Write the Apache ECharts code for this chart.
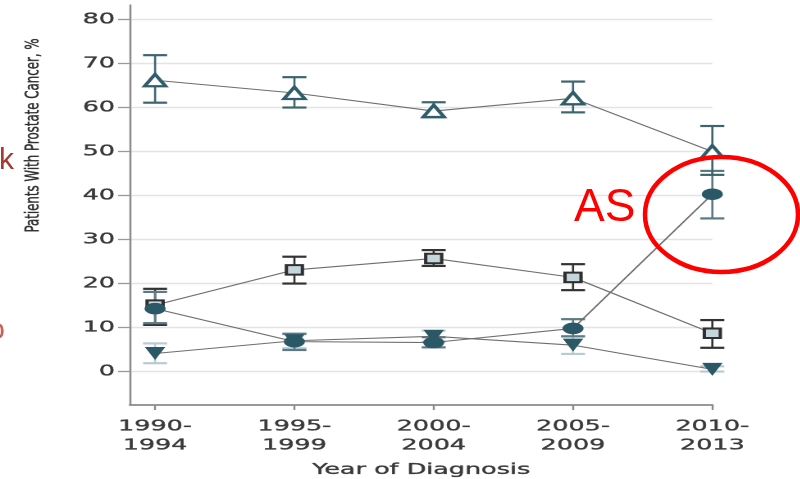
<!DOCTYPE html>
<html>
<head>
<meta charset="utf-8">
<script src="https://cdn.jsdelivr.net/npm/echarts@6/dist/echarts.min.js"></script>
<style>
  html, body { margin: 0; padding: 0; background: #fff; overflow: hidden; }
  #wrap { position: relative; width: 800px; height: 479px; overflow: hidden; }
  #chart { position: absolute; left: 0; top: 0; height: 479px; transform-origin: 0 0; }
  #notes { position: absolute; left: 0; top: 0; width: 800px; height: 479px; pointer-events: none; }
</style>
</head>
<body>
<div id="wrap"><div id="chart"></div><div id="notes"></div></div>
<script>
// ---- data -------------------------------------------------------------
const categories = ['1990-1994', '1995-1999', '2000-2004', '2005-2009', '2010-2013'];
const yTicks = [0, 10, 20, 30, 40, 50, 60, 70, 80];

// open upward triangles
const triUpValue = [66.2, 63.3, 59.2, 62.1, 50.0];
const triUpLow   = [61.1, 60.0, 57.8, 58.9, 44.7];
const triUpHigh  = [71.9, 66.9, 61.2, 65.9, 55.8];

// shaded squares
const squareValue = [15.1, 23.1, 25.7, 21.4, 8.7];
const squareLow   = [10.6, 20.0, 24.0, 18.5, 5.4];
const squareHigh  = [18.8, 26.1, 27.6, 24.4, 11.7];

// filled circles (AS)
const circleValue = [14.3, 6.8, 6.6, 9.8, 40.3];
const circleLow   = [11.0, 4.9, 5.5, 8.0, 34.8];
const circleHigh  = [18.1, 8.6, 7.8, 11.9, 45.6];

// filled downward triangles
const triDownValue = [4.1, 7.0, 8.0, 6.0, 0.5];
const triDownLow   = [1.9, 5.3, 6.8, 4.0, 0.0];
const triDownHigh  = [6.4, 8.5, 9.3, 8.0, 1.2];

// ---- panel geometry ---------------------------------------------------
// The figure panel is drawn narrow and widened horizontally.
const SX = 1.64;
const PANEL_W = 800 / SX;
const chartDom = document.getElementById('chart');
chartDom.style.width = PANEL_W + 'px';
chartDom.style.transform = 'scaleX(' + SX + ')';

const FONT = 'DejaVu Sans';
const TEXT = '#3a3a3a';
const CAP_HALF = 12 / SX;
const LINK = '#6e6e6e';

function points(values) {
  return values.map((v, i) => [i, v]);
}

function errorBars(low, high, color, z) {
  return {
    type: 'custom',
    z: z,
    silent: true,
    encode: { x: 0, y: [1, 2] },
    data: low.map((l, i) => [i, l, high[i]]),
    renderItem: function (params, api) {
      const x = api.value(0);
      const lo = api.coord([x, api.value(1)]);
      const hi = api.coord([x, api.value(2)]);
      return {
        type: 'group',
        children: [
          { type: 'line', shape: { x1: lo[0], y1: lo[1], x2: hi[0], y2: hi[1] },
            style: { stroke: color, lineWidth: 1.3 } },
          { type: 'line', shape: { x1: hi[0] - CAP_HALF, y1: hi[1], x2: hi[0] + CAP_HALF, y2: hi[1] },
            style: { stroke: color, lineWidth: 2.2 } },
          { type: 'line', shape: { x1: lo[0] - CAP_HALF, y1: lo[1], x2: lo[0] + CAP_HALF, y2: lo[1] },
            style: { stroke: color, lineWidth: 2.2 } }
        ]
      };
    }
  };
}

function trend(values, symbol, size, rotate, fill, border, borderWidth, z) {
  return {
    type: 'line',
    z: z,
    data: points(values),
    symbol: symbol,
    symbolSize: size,
    symbolRotate: rotate,
    showAllSymbol: true,
    lineStyle: { color: LINK, width: 1.1 },
    itemStyle: { color: fill, borderColor: border, borderWidth: borderWidth, opacity: 1 },
    emphasis: { disabled: true },
    silent: true
  };
}

const labelText = {
  fontFamily: FONT, fontSize: 15.5, color: TEXT,
  textBorderColor: TEXT, textBorderWidth: 0.35
};

const chart = echarts.init(chartDom, null, { renderer: 'canvas', devicePixelRatio: 2 });
chart.setOption({
  animation: false,
  backgroundColor: 'transparent',
  grid: {
    left: 130 / SX,
    right: (800 - 712) / SX,
    top: 5,
    bottom: 74,
    containLabel: false,
    outerBoundsMode: 'none'
  },
  xAxis: {
    type: 'value',
    min: -0.18,
    max: 4,
    axisLine: { show: true, onZero: false, lineStyle: { color: '#8a8a8a', width: 1.7 } },
    axisTick: { show: true, customValues: [0, 1, 2, 3, 4], length: 5,
                lineStyle: { color: '#8a8a8a', width: 1.2 } },
    axisLabel: Object.assign({
      customValues: [0, 1, 2, 3, 4],
      formatter: v => categories[Math.round(v)].replace('-', '-\n'),
      lineHeight: 19, margin: 12
    }, labelText),
    splitLine: { show: false },
    name: 'Year of Diagnosis',
    nameLocation: 'middle',
    nameGap: 57,
    nameTextStyle: Object.assign({}, labelText)
  },
  yAxis: {
    type: 'value',
    min: -7.6,
    max: 83.3,
    axisLine: { show: true, onZero: false, lineStyle: { color: '#8a8a8a', width: 1.25 } },
    axisTick: { show: true, customValues: yTicks, length: 12 / SX,
                lineStyle: { color: '#9a9a9a', width: 1.3 } },
    axisLabel: Object.assign({ customValues: yTicks, margin: 15 / SX }, labelText),
    splitLine: { show: true, lineStyle: { color: '#e4e4e4', width: 1.4 } }
  },
  graphic: [{
    type: 'text',
    x: 33.5 / SX,
    y: 135.5,
    rotation: Math.PI / 2,
    silent: true,
    style: {
      text: 'Patients With Prostate Cancer, %',
      fontFamily: FONT, fontSize: 11.8, fill: '#2e2e2e',
      stroke: '#2e2e2e', lineWidth: 0.3,
      align: 'center', verticalAlign: 'middle'
    }
  }],
  series: [
    errorBars(triDownLow, triDownHigh, '#b8cbd3', 2),
    errorBars(squareLow, squareHigh, '#333333', 2),
    errorBars(circleLow, circleHigh, '#5b7a83', 2),
    errorBars(triUpLow, triUpHigh, '#3d6570', 2),
    trend(squareValue, 'rect', [16 / SX, 9.5], 0, '#c4d5dc', '#2f2f2f', 2, 3),
    trend(triDownValue, 'triangle', [20.5 / SX, 13], 180, '#2b5866', '#2b5866', 0, 3),
    trend(circleValue, 'circle', [21 / SX, 11.5], 0, '#2b5866', '#2b5866', 0, 3),
    trend(triUpValue, 'triangle', [21 / SX, 12], 0, '#ffffff', '#2f5d69', 2.4, 3)
  ]
});

// ---- slide annotations drawn on top ---------------------------------
const notes = echarts.init(document.getElementById('notes'), null, { renderer: 'canvas' });
notes.setOption({
  animation: false,
  backgroundColor: 'transparent',
  graphic: [
    { type: 'ellipse', silent: true,
      shape: { cx: 721.5, cy: 214.5, rx: 76.5, ry: 57.5 },
      style: { fill: 'none', stroke: '#ff0000', lineWidth: 4.5 } },
    { type: 'text', silent: true, x: 574, y: 208.5,
      style: { text: 'AS', fill: '#ff0000', fontFamily: 'Liberation Sans', fontSize: 46,
               align: 'left', verticalAlign: 'middle' } },
    { type: 'text', silent: true, x: -1, y: 161,
      style: { text: 'k', fill: '#a33a2e', fontFamily: 'Liberation Sans', fontSize: 30,
               align: 'left', verticalAlign: 'middle' } },
    { type: 'text', silent: true, x: 5, y: 331,
      style: { text: 'o', fill: '#c9605a', fontFamily: 'Liberation Sans', fontSize: 30,
               align: 'right', verticalAlign: 'middle' } }
  ]
});
</script>
</body>
</html>
